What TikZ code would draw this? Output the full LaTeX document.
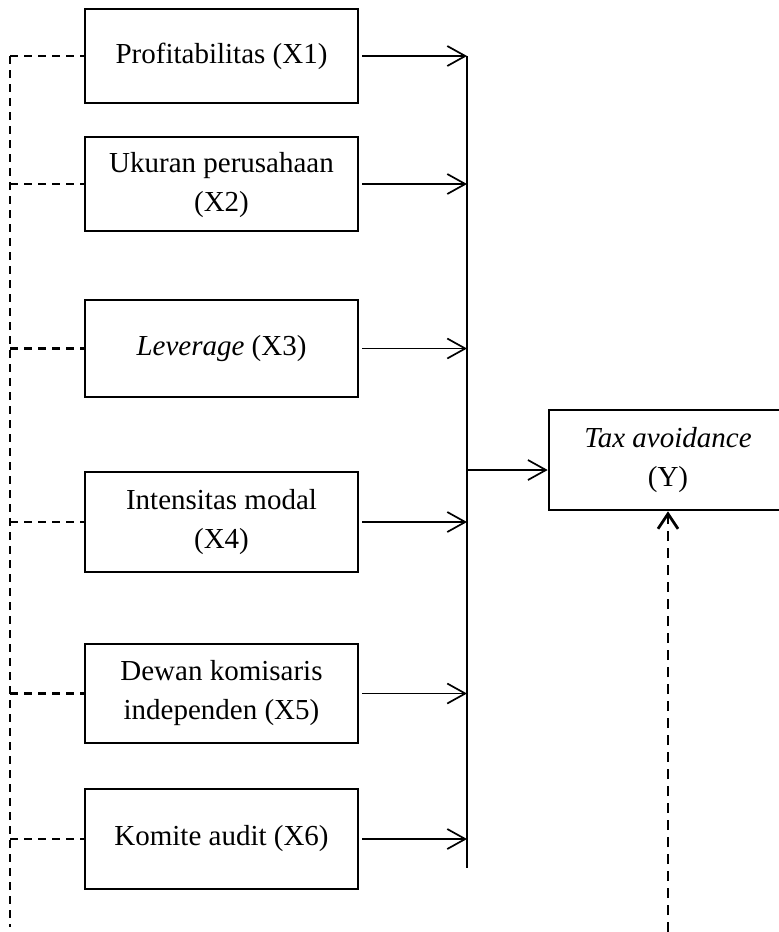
\documentclass[tikz,border=0pt]{standalone}
\usepackage{fontspec}
\setmainfont{Liberation Serif}
\usetikzlibrary{arrows.meta}
\begin{document}
\begin{tikzpicture}[x=1pt,y=-1pt,
  vbox/.style={draw,line width=2.6pt,minimum width=273pt,inner sep=0pt,align=center,
    font=\fontsize{29}{39}\selectfont},
  arr/.style={line width=1.7pt,-{Straight Barb[length=18pt,width=20pt]}},
  dline/.style={line width=2.4pt,dash pattern=on 8pt off 6pt},
  darr/.style={line width=2.8pt,dash pattern=on 10pt off 7pt,-{Straight Barb[length=15pt,width=20pt]}}]
\useasboundingbox (0,0) rectangle (779,932);
\node[vbox,minimum height=94pt]  (x1) at (221.5,56)  {Profitabilitas (X1)};
\node[vbox,minimum height=94pt]  (x2) at (221.5,184) {\raisebox{-6pt}{\begin{tabular}{@{}c@{}}Ukuran perusahaan\\(X2)\end{tabular}}};
\node[vbox,minimum height=97pt]  (x3) at (221.5,348.5) {\textit{Leverage} (X3)};
\node[vbox,minimum height=100pt] (x4) at (221.5,522) {Intensitas modal\\(X4)};
\node[vbox,minimum height=99pt]  (x5) at (221.5,693.5) {Dewan komisaris\\independen (X5)};
\node[vbox,minimum height=100pt] (x6) at (221.5,839) {Komite audit (X6)};
\node[vbox,minimum width=238pt,minimum height=100pt] (y) at (668,460) {\textit{Tax avoidance}\\(Y)};
% bus
\coordinate (bt) at (467,56);
\coordinate (bb) at (467,868);
\coordinate (by) at (467,470);
\draw[line width=2.2pt] (bt) -- (bb);
\foreach \n in {x1,x2,x3,x4,x5,x6}{
  \draw[arr] ([xshift=3pt]\n.east) -- (\n.east -| bt);
}
\draw[arr] (by) -- (by -| y.west);
% left dashed line
\coordinate (lt) at (10,56);
\coordinate (lb) at (10,927);
\draw[dline] (lt) -- (lb);
\foreach \n in {x1,x2,x3,x4,x5,x6}{
  \draw[dline] (\n.west -| lt) -- (\n.west);
}
% dashed arrow up to Y
\coordinate (yb) at (668,932);
\draw[darr] (yb) -- (y.south);
\end{tikzpicture}
\end{document}
